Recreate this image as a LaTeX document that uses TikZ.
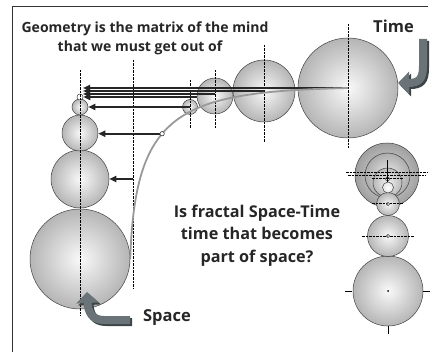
\documentclass[tikz,border=0pt]{standalone}
\usepackage{fontspec}
\setmainfont{Open Sans}
\usetikzlibrary{arrows.meta}
\definecolor{hook}{HTML}{6A7478}
\definecolor{hookdark}{HTML}{3C4447}
\begin{document}
\begin{tikzpicture}[x=1pt,y=-1pt,
  ball/.style={circle, draw=black!75, line width=0.5pt, inner sep=0pt, minimum size=#1, shade, inner color=gray!5, outer color=gray!58},
  darkball/.style={circle, draw=black!75, line width=0.5pt, inner sep=0pt, minimum size=#1, shade, inner color=gray!25, outer color=gray!75},
  dline/.style={dash pattern=on 2.5pt off 1pt, line width=0.9pt, black},
  arr/.style={line width=1.8pt, black!85, -{Triangle[length=7pt,width=6pt]}},
  lbl/.style={font=\fontsize{14}{16}\selectfont\bfseries, text=black!85, inner sep=0pt},
  qlbl/.style={font=\fontsize{16.2}{18}\selectfont\bfseries, text=black!85, inner sep=0pt},
  big/.style={font=\fontsize{16.5}{20}\selectfont\bfseries, text=black!85, inner sep=0pt},
  hookline/.style={line width=8pt, -{Triangle[length=11pt,width=22pt]}}
]
\useasboundingbox (0,0) rectangle (430,352);
\draw[line width=1pt, black!80] (12,352) -- (12,7) -- (428,7);

% left column (space)
\node[ball=100pt] (L4) at (80,259) {};
\node[ball=58pt] (L3) at (80,179) {};
\node[ball=36pt] (L2) at (80,133) {};
\node[ball=16pt] (L1) at (80,107) {};
\node[ball=6pt, inner color=white, outer color=white] (L0) at (80,97) {};

% top chain (time)
\node[ball=100pt] (T4) at (348,88) {};
\node[ball=62pt] (T3) at (264,91) {};
\node[ball=36pt] (T2) at (215,96) {};
\node[ball=15pt] (T1) at (190,107) {};

% right column
\node[darkball=64pt] (N1) at (387,175) {};
\node[darkball=45pt, inner color=gray!15, outer color=gray!65] (N2) at (387.5,175.5) {};
\node[darkball=29pt, inner color=gray!10, outer color=gray!55] (N3) at (387.5,182.5) {};
\node[ball=70pt] (R4) at (388,291) {};
\node[ball=41pt] (R3) at (388,236) {};
\node[ball=23pt] (R2) at (388,204) {};
\node[ball=11pt, inner color=white, outer color=gray!20] (R1) at (388,187.5) {};
\node[circle, draw=black!80, line width=0.5pt, inner sep=0pt, minimum size=4pt] (N4) at (387.5,179) {};

% guide lines
\draw[dline] (80,70) -- (80,316);
\draw[dline] (133,60) -- (133,289);
\draw[dline] (190,80) -- (190,128);
\draw[dline] (215,70) -- (215,128);
\draw[dline] (264,45) -- (264,143);
\draw[dline] (348,24) -- (348,148);
\draw[dline] (362,236) -- (414,236);
\draw[dline] (372,203) -- (403,203);
\draw[dline] (346,172.5) -- (428,172.5);
\draw[dline] (348,175.5) -- (426,175.5);
\draw[dline] (372,178) -- (403,178);
\draw[line width=0.8pt] (387.5,160) -- (387.5,182);
\draw[line width=0.8pt] (345,291) -- (352,291) (423,291) -- (430,291) (388,326) -- (388,334);
\fill (R4.center) circle (1pt);
\draw[line width=0.5pt, fill=white] (R3.center) circle (1.6pt);
\draw[line width=0.5pt, fill=white] (R2.center) circle (1.6pt);

% arrows
\draw[arr] (T4.center) -- ++(-265,0);
\draw[arr] (T3.center) -- ++(-181,0);
\draw[arr] ([yshift=2pt]T2.center) -- ++(-132,0);
\draw[arr] (T2.west |- L0.east) -- (L0.east);
\draw[arr] (T1.center) -- (L1.east);
\coordinate (Q) at (133,179);
\draw[arr] (Q) -- (L3.east);

% curve
\draw[black!40, line width=1.8pt] (T4.center) .. controls (180,92) and (135,110) .. (L4.east) coordinate[pos=0.59] (P1);
\draw[arr] (P1) -- (L2.east |- P1);
\draw[black!80, line width=0.6pt, fill=white] (P1) circle (2.2pt);

% hooks
\draw[hookline, hookdark] (425,41) -- (425,68) .. controls (425,81) and (421,85) .. (400,85);
\draw[hookline, hook] (423,39) -- (423,66) .. controls (423,79) and (419,83) .. (398,83);
\draw[hookline, hookdark] (132,322) -- (106,322) .. controls (94,322) and (90,314) .. (89,294);
\draw[hookline, hook] (130,320) -- (104,320) .. controls (92,320) and (88,312) .. (87,292);

% labels
\node[lbl, anchor=base] (title1) at (145,33) {Geometry is the matrix of the mind};
\node[lbl, anchor=base] (title2) at (140,52) {that we must get out of};
\node[big, anchor=base] (time) at (393.5,33) {Time};
\node[big, anchor=base] (space) at (167,321) {Space};
\node[qlbl, anchor=base] (q1) at (257,218) {Is fractal Space-Time};
\node[qlbl, anchor=base] (q2) at (257,240) {time that becomes};
\node[qlbl, anchor=base] (q3) at (257,262) {part of space?};
\end{tikzpicture}
\end{document}
